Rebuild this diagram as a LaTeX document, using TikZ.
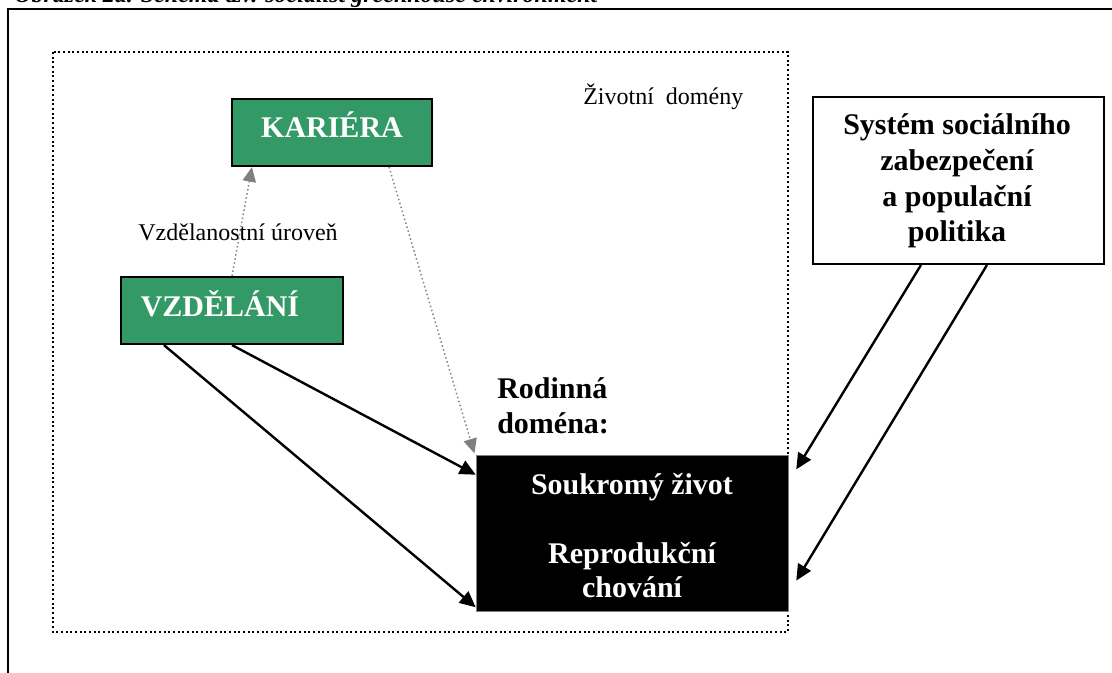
\documentclass[tikz,border=0pt]{standalone}
\usepackage{fontspec}
\setmainfont{Liberation Serif}
\usetikzlibrary{arrows.meta}
\definecolor{boxgreen}{HTML}{339966}
\definecolor{arrgray}{HTML}{808080}
\tikzset{
  bigbold/.style={font=\fontsize{22.5}{27}\selectfont\bfseries, inner sep=0pt},
  plaintext/.style={font=\fontsize{18}{21}\selectfont, inner sep=0pt},
  greenbox/.style={draw=black, line width=1.6pt, fill=boxgreen, inner sep=0pt},
  blackbox/.style={fill=black, draw=arrgray, line width=0.4pt, inner sep=0pt},
  whitebox/.style={draw=black, line width=1.6pt, fill=white, inner sep=0pt},
  solidarrow/.style={draw=black, line width=1.8pt, -{Triangle[length=12pt,width=11pt]}},
  grayarrow/.style={draw=arrgray, line width=1.1pt, dotted, -{Triangle[length=11pt,width=10pt]}},
}
\begin{document}
\begin{tikzpicture}[x=0.75pt, y=-0.75pt]
\useasboundingbox (0,0) rectangle (1112,673);
% title (cut off at top)
\node[font=\fontsize{18}{21}\selectfont\bfseries\itshape, inner sep=0pt, anchor=base west] (title) at (14,3) {Obrázek 2a. Schéma tzv. socialist greenhouse environment};
% outer frame
\draw[line width=1.6pt] (8,700) -- (8,9) -- (1130,9);
% dotted domain frame
\draw[line width=1.5pt, dotted] (53,52) rectangle (788,632);
% boxes
\node[greenbox, minimum width=150pt, minimum height=50.25pt] (kar) at (332,132.5) {};
\node[bigbold, text=white, anchor=base] (karT) at (332,138) {KARIÉRA};
\node[greenbox, minimum width=166.5pt, minimum height=50.25pt] (vzd) at (232,310.5) {};
\node[bigbold, text=white, anchor=base] (vzdT) at (220,316) {VZDĚLÁNÍ};
\node[blackbox, minimum width=234pt, minimum height=117pt] (rod) at (632,533) {};
\node[bigbold, text=white, anchor=base] (rodT1) at (632,494) {Soukromý život};
\node[bigbold, text=white, anchor=base] (rodT2) at (632,563) {Reprodukční};
\node[bigbold, text=white, anchor=base] (rodT3) at (632,597) {chování};
\node[whitebox, minimum width=218.25pt, minimum height=125.25pt] (sys) at (958.5,180.5) {};
\node[bigbold, anchor=base] (sys1) at (957,135) {Systém sociálního};
\node[bigbold, anchor=base] (sys2) at (957,171) {zabezpečení};
\node[bigbold, anchor=base] (sys3) at (957,207) {a populační};
\node[bigbold, anchor=base] (sys4) at (957,242) {politika};
% labels
\node[plaintext, anchor=base] (vzdLab) at (238,241) {Vzdělanostní úroveň};
\node[plaintext, anchor=base west] (zivLab) at (583,105) {Životní\ \ domény};
\node[bigbold, anchor=base west] (rodLab1) at (497,398) {Rodinná};
\node[bigbold, anchor=base west] (rodLab2) at (497,433) {doména:};
% connectors
\draw[grayarrow] (vzd.north) -- ([xshift=15.75pt]kar.south west);
\draw[grayarrow] ([xshift=-33pt]kar.south east) -- ([xshift=-1pt,yshift=1pt]rod.north west);
\draw[solidarrow] (vzd.south) -- ([yshift=-15pt]rod.north west);
\draw[solidarrow] ([xshift=33pt]vzd.south west) -- ([yshift=3pt]rod.south west);
\draw[solidarrow] ([xshift=81.75pt]sys.south west) -- ([xshift=6pt,yshift=-11pt]rod.north east);
\draw[solidarrow] ([xshift=131.25pt]sys.south west) -- ([xshift=6pt,yshift=23pt]rod.south east);
\end{tikzpicture}
\end{document}
